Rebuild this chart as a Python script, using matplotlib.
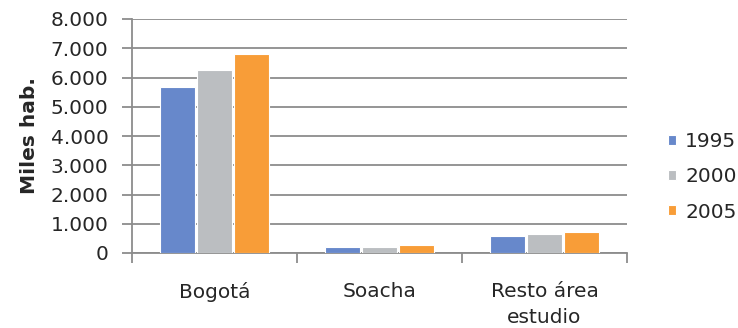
import matplotlib
matplotlib.use("Agg")
import matplotlib.pyplot as plt
import numpy as np
from matplotlib.ticker import FuncFormatter, FixedLocator

categories = ["Bogotá", "Soacha", "Resto área\nestudio"]
series = ["1995", "2000", "2005"]
v1995 = [5665, 212, 590]
v2000 = [6246, 212, 656]
v2005 = [6814, 267, 725]
yticks = [0, 1000, 2000, 3000, 4000, 5000, 6000, 7000, 8000]
colors = ["#6788CB", "#BBBEC1", "#F89D38"]

plt.rcParams['font.family'] = ['DejaVu Sans']
fig = plt.figure(figsize=(7.38, 3.28), dpi=100)
ax = fig.add_axes([132/738, 1-253/328, (627-132)/738, (253-19)/328])

x = np.arange(len(categories))
w = 0.212
step = 0.222
for i, (vals, c, s) in enumerate(zip([v1995, v2000, v2005], colors, series)):
    ax.bar(x + (i-1)*step, vals, width=w, color=c, edgecolor="white", linewidth=0.8, label=s, zorder=3)

ax.set_xlim(-0.5, 2.5)
ax.set_ylim(0, 8000)
ax.set_yticks(yticks)
ax.yaxis.set_major_formatter(FuncFormatter(lambda v, p: f"{int(v):,}".replace(",", ".")))
ax.grid(axis="y", color="#8C8C8C", linewidth=1.3, zorder=0)
ax.set_axisbelow(True)
for s in ["top", "right"]:
    ax.spines[s].set_visible(False)
for s in ["left", "bottom"]:
    ax.spines[s].set_color("#8C8C8C")
    ax.spines[s].set_linewidth(1.3)

fs = 14.5
ax.set_xticks(x)
ax.set_xticklabels(categories, fontsize=fs, color="#262626", linespacing=1.45)
ax.xaxis.set_minor_locator(FixedLocator([-0.5, 0.5, 1.5, 2.5]))
ax.tick_params(axis="x", which="major", length=0, pad=21)
ax.tick_params(axis="x", which="minor", length=7, width=1.3, color="#8C8C8C")
ax.tick_params(axis="y", length=7, width=1.3, color="#8C8C8C", labelsize=fs, labelcolor="#262626", pad=10)

ax.set_ylabel("Miles hab.", fontsize=fs, fontweight="semibold", color="#262626", labelpad=8)

leg = fig.legend(loc="center left", bbox_to_anchor=(660/738, 1-177/328), frameon=False, fontsize=fs,
                 borderaxespad=0, handlelength=0.4, handleheight=0.4, handletextpad=0.45,
                 labelspacing=0.8)
for t in leg.get_texts():
    t.set_color("#262626")

fig.savefig("out.png", dpi=100)
